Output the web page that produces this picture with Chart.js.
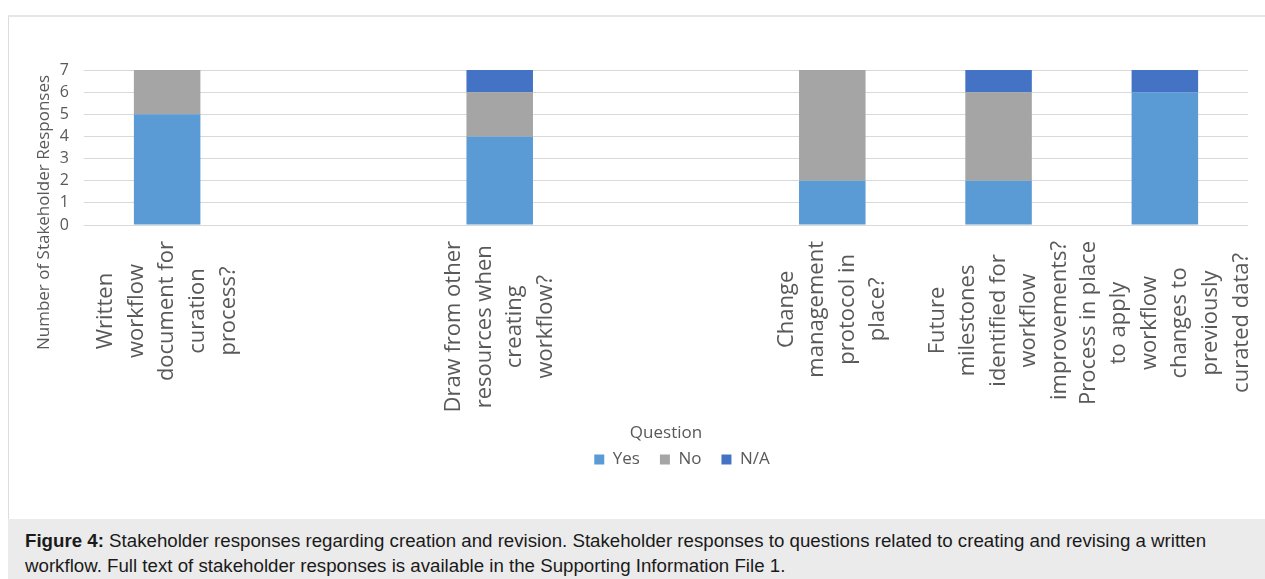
<!DOCTYPE html>
<html>
<head>
<meta charset="utf-8">
<script src="https://cdn.jsdelivr.net/npm/chart.js@4.4.1/dist/chart.umd.min.js"></script>
<style>
  html, body { margin: 0; padding: 0; background: #ffffff; }
  body { width: 1265px; height: 579px; overflow: hidden; position: relative; }
  #chart { position: absolute; left: 0; top: 0; }
  #frame { position: absolute; left: 8px; top: 15px; width: 1300px; height: 504px;
           border-top: 2px solid #e6e6e6; border-left: 1px solid #dcdcdc; box-sizing: border-box; pointer-events: none; }
  #caption { position: absolute; left: 8px; top: 519px; width: 1257px; height: 60px; background: #ebebeb;
             box-sizing: border-box; padding: 9px 0 0 17px; font-family: "Liberation Sans", Arial, sans-serif;
             font-size: 18.7px; line-height: 25px; color: #1a1a1a; white-space: nowrap; }
  #caption b { font-weight: bold; }
</style>
</head>
<body>
<canvas id="chart" width="1265" height="519"></canvas>
<div id="frame"></div>
<div id="caption"><b>Figure 4:</b> Stakeholder responses regarding creation and revision. Stakeholder responses to questions related to creating and revising a written<br>workflow. Full text of stakeholder responses is available in the Supporting Information File 1.</div>
<script>
// ---- data ----
const questions = [
  ['Written', 'workflow', 'document for', 'curation', 'process?'],
  [],
  ['Draw from other', 'resources when', 'creating', 'workflow?'],
  [],
  ['Change', 'management', 'protocol in', 'place?'],
  ['Future', 'milestones', 'identified for', 'workflow', 'improvements?'],
  ['Process in place', 'to apply', 'workflow', 'changes to', 'previously', 'curated data?']
];
const yesValues = [5, null, 4, null, 2, 2, 6];
const noValues  = [2, null, 2, null, 5, 4, 0];
const naValues  = [0, null, 1, null, 0, 1, 1];
const seriesNames = ['Yes', 'No', 'N/A'];
const yTicks = [0, 1, 2, 3, 4, 5, 6, 7];
const xTitle = 'Question';
const yTitle = 'Number of Stakeholder Responses';

// ---- styles ----
const COLORS = ['#5B9BD5', '#A5A5A5', '#4472C4'];
const TEXT = '#595959';
const FONT = "'Open Sans', sans-serif";

const labelsPlugin = {
  id: 'customLabels',
  afterLayout(chart) {
    const lg = chart.legend;
    if (lg) {
      const shift = 682 - (lg.left + lg.right) / 2;
      lg.left += shift; lg.right += shift;
    }
  },
  afterDraw(chart) {
    const ctx = chart.ctx;
    const xs = chart.scales.x;
    ctx.save();
    ctx.fillStyle = TEXT;
    ctx.textAlign = 'center';
    ctx.textBaseline = 'middle';
    // category labels (rotated, centred multi-line blocks)
    ctx.font = "22px " + FONT;
    const lineH = 30.6;
    questions.forEach((lines, i) => {
      if (!lines.length) return;
      const cx = xs.getPixelForValue(i);
      const maxW = Math.max(...lines.map(l => ctx.measureText(l).width));
      const top = xs.top + 16;
      ctx.save();
      ctx.translate(cx, top + maxW / 2);
      ctx.rotate(-Math.PI / 2);
      lines.forEach((l, j) => ctx.fillText(l, 0, (j - (lines.length - 1) / 2) * lineH));
      ctx.restore();
    });
    // y axis title
    ctx.font = "17px " + FONT;
    ctx.save();
    ctx.translate(44, 212.5);
    ctx.rotate(-Math.PI / 2);
    ctx.fillText(yTitle, 0, 0);
    ctx.restore();
    ctx.restore();
  }
};

new Chart(document.getElementById('chart'), {
  type: 'bar',
  data: {
    labels: questions,
    datasets: [
      { label: seriesNames[0], data: yesValues, backgroundColor: COLORS[0] },
      { label: seriesNames[1], data: noValues,  backgroundColor: COLORS[1] },
      { label: seriesNames[2], data: naValues,  backgroundColor: COLORS[2] }
    ]
  },
  options: {
    responsive: false,
    animation: false,
    layout: { padding: { top: 70, left: 0, right: 17, bottom: 41 } },
    datasets: { bar: { barPercentage: 0.4, categoryPercentage: 1, borderWidth: 0 } },
    plugins: {
      tooltip: { enabled: false },
      legend: {
        position: 'bottom',
        labels: { font: { family: FONT, size: 17 }, color: TEXT, boxWidth: 10, boxHeight: 10, padding: 20 }
      }
    },
    scales: {
      x: {
        stacked: true,
        grid: { display: false },
        border: { display: false },
        ticks: { display: false },
        title: { display: true, text: xTitle, color: TEXT, font: { family: FONT, size: 17 }, padding: { top: 0, bottom: -12 } },
        afterFit: s => { s.height = 206; }
      },
      y: {
        stacked: true,
        min: 0, max: 7,
        afterBuildTicks: s => { s.ticks = yTicks.map(v => ({ value: v })); },
        grid: { color: '#d9d9d9', lineWidth: 1, drawTicks: false },
        border: { display: false },
        ticks: { color: TEXT, font: { family: FONT, size: 16 }, padding: 15, autoSkip: false, stepSize: 1 },
        afterFit: s => { s.width = 84; }
      }
    }
  },
  plugins: [labelsPlugin]
});
</script>
</body>
</html>
